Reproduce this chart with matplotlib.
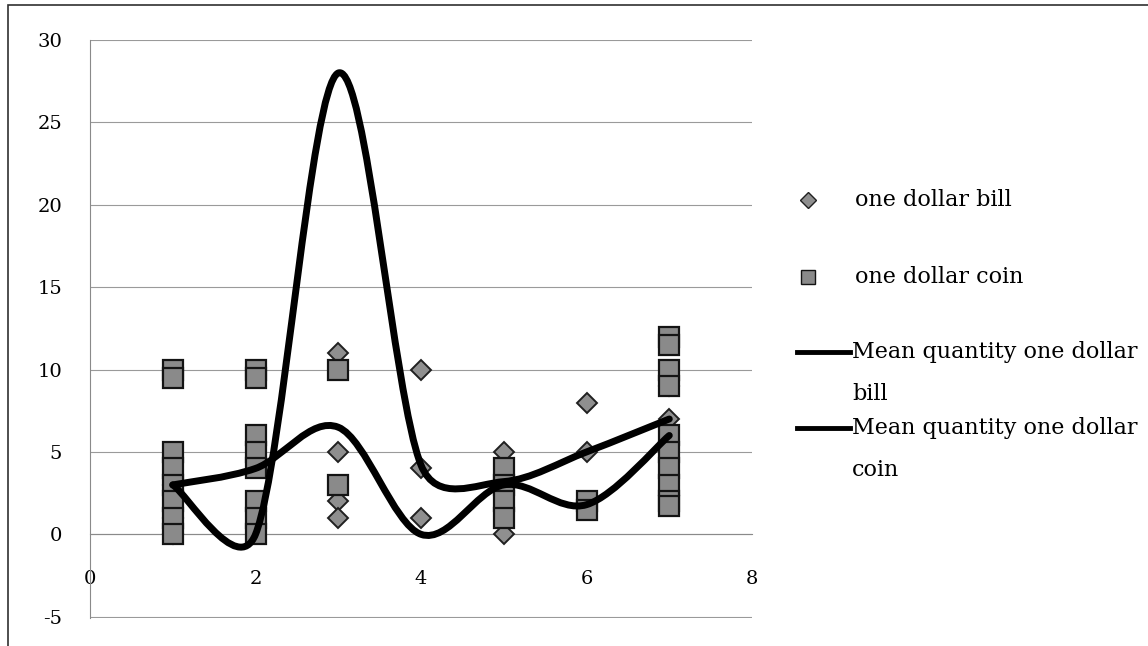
import math
import matplotlib.pyplot as plt
from matplotlib.path import Path
from matplotlib.patches import PathPatch, Rectangle
from matplotlib.lines import Line2D

# scatter data
bill_x = [1, 1, 1, 3, 3, 3, 3, 4, 4, 4, 5, 5, 6, 6, 7, 7]
bill_y = [3, 1, 0, 11, 5, 2, 1, 10, 4, 1, 5, 0, 8, 5, 9, 7]

coin_x = [1, 1, 1, 1, 1, 1, 1, 1,
          2, 2, 2, 2, 2, 2, 2, 2,
          3, 3,
          5, 5, 5, 5,
          6, 6,
          7, 7, 7, 7, 7, 7, 7, 7, 7, 7]
coin_y = [10, 9.5, 5, 4, 3, 2, 1, 0,
          10, 9.5, 6, 5, 4, 2, 1, 0,
          10, 3,
          4, 3, 2, 1,
          2, 1.5,
          12, 11.5, 10, 9, 6, 5, 4, 3, 2, 1.7]

# smoothed mean lines
mean_x = [1, 2, 3, 4, 5, 6, 7]
mean_bill = [3, 0, 28, 4.2, 3.2, 5, 7]
mean_coin = [3, 4, 6.5, 0, 3, 1.8, 6]

y_ticks = [-5, 0, 5, 10, 15, 20, 25, 30]
x_ticks = [0, 2, 4, 6, 8]

FONT = 'DejaVu Serif'


def smooth_path(ax, xs, ys):
    # Excel-like smoothing: Bezier segments, tangent parallel to the
    # neighbours' chord, control arms capped at half the adjacent segment
    # (distances measured on screen)
    fig = ax.figure
    fig.canvas.draw()
    to_px = ax.transData.transform
    to_data = ax.transData.inverted().transform
    pts = [tuple(to_px((x, y))) for x, y in zip(xs, ys)]
    n = len(pts)

    def dist(a, b):
        return math.hypot(b[0] - a[0], b[1] - a[1])

    verts = [pts[0]]
    codes = [Path.MOVETO]
    for i in range(n - 1):
        p0 = pts[max(i - 1, 0)]
        p1 = pts[i]
        p2 = pts[i + 1]
        p3 = pts[min(i + 2, n - 1)]
        d02 = dist(p0, p2)
        d12 = dist(p1, p2)
        d13 = dist(p1, p3)
        f1 = min(1 / 6, d12 / (2 * d02)) if d02 else 0
        f2 = min(1 / 6, d12 / (2 * d13)) if d13 else 0
        c1 = (p1[0] + f1 * (p2[0] - p0[0]), p1[1] + f1 * (p2[1] - p0[1]))
        c2 = (p2[0] - f2 * (p3[0] - p1[0]), p2[1] - f2 * (p3[1] - p1[1]))
        verts += [c1, c2, p2]
        codes += [Path.CURVE4] * 3
    verts = [tuple(to_data(v)) for v in verts]
    return Path(verts, codes)


def main():
    fig = plt.figure(figsize=(11.48, 6.46), dpi=100)
    ax = fig.add_axes([0.0784, 0.0433, 0.5767, 0.8947])

    for s in ['top', 'right']:
        ax.spines[s].set_visible(False)
    ax.spines['bottom'].set_position(('data', 0))
    ax.spines['bottom'].set_color('#8a8a8a')
    ax.spines['bottom'].set_linewidth(0.8)
    ax.spines['left'].set_color('#8a8a8a')
    ax.spines['left'].set_linewidth(0.8)

    ax.set_xlim(0, 8)
    ax.set_ylim(-5.08, 30)
    ax.set_yticks(y_ticks)
    ax.set_xticks(x_ticks)
    ax.set_yticklabels([str(v) for v in y_ticks], fontfamily=FONT, fontsize=14)
    ax.set_xticklabels([str(v) for v in x_ticks], fontfamily=FONT, fontsize=14)
    ax.tick_params(axis='y', length=0, pad=20)
    ax.tick_params(axis='x', length=0, pad=26)

    ax.grid(axis='y', color='#9a9a9a', linewidth=0.8)
    ax.set_axisbelow(True)

    ax.plot(bill_x, bill_y, linestyle='none', marker='D', markersize=10.5,
            markerfacecolor='#8f8f8f', markeredgecolor='#202020',
            markeredgewidth=1.4, zorder=3)
    ax.plot(coin_x, coin_y, linestyle='none', marker='s', markersize=15,
            markerfacecolor='#8a8a8a', markeredgecolor='#141414',
            markeredgewidth=1.6, zorder=3)

    for ys in [mean_bill, mean_coin]:
        ax.add_patch(PathPatch(smooth_path(ax, mean_x, ys), facecolor='none',
                               edgecolor='black', linewidth=5,
                               capstyle='round', joinstyle='round', zorder=4))

    # legend, laid out like the Excel one
    def fx(px):
        return px / 1148

    def fy(py):
        return 1 - py / 646

    fig.add_artist(Line2D([fx(808)], [fy(200)], marker='D', markersize=8,
                          markerfacecolor='#8f8f8f', markeredgecolor='#202020',
                          transform=fig.transFigure))
    fig.text(fx(855), fy(200), 'one dollar bill', fontfamily=FONT,
             fontsize=16, va='center')
    fig.add_artist(Line2D([fx(808)], [fy(277)], marker='s', markersize=10,
                          markerfacecolor='#8a8a8a', markeredgecolor='#141414',
                          transform=fig.transFigure))
    fig.text(fx(855), fy(277), 'one dollar coin', fontfamily=FONT,
             fontsize=16, va='center')

    for py, word in [(352, 'bill'), (428, 'coin')]:
        fig.add_artist(Line2D([fx(797), fx(850)], [fy(py), fy(py)],
                              color='black', linewidth=3.5,
                              transform=fig.transFigure))
        fig.text(fx(852), fy(py), 'Mean quantity one dollar', fontfamily=FONT,
                 fontsize=16, va='center')
        fig.text(fx(852), fy(py + 42), word, fontfamily=FONT,
                 fontsize=16, va='center')

    # chart border
    fig.add_artist(Rectangle((0.007, -0.01), 1.0, 1.002, fill=False,
                             edgecolor='#303030', linewidth=1.2,
                             transform=fig.transFigure))

    fig.savefig('out.png', dpi=100)


if __name__ == "__main__":
    main()
